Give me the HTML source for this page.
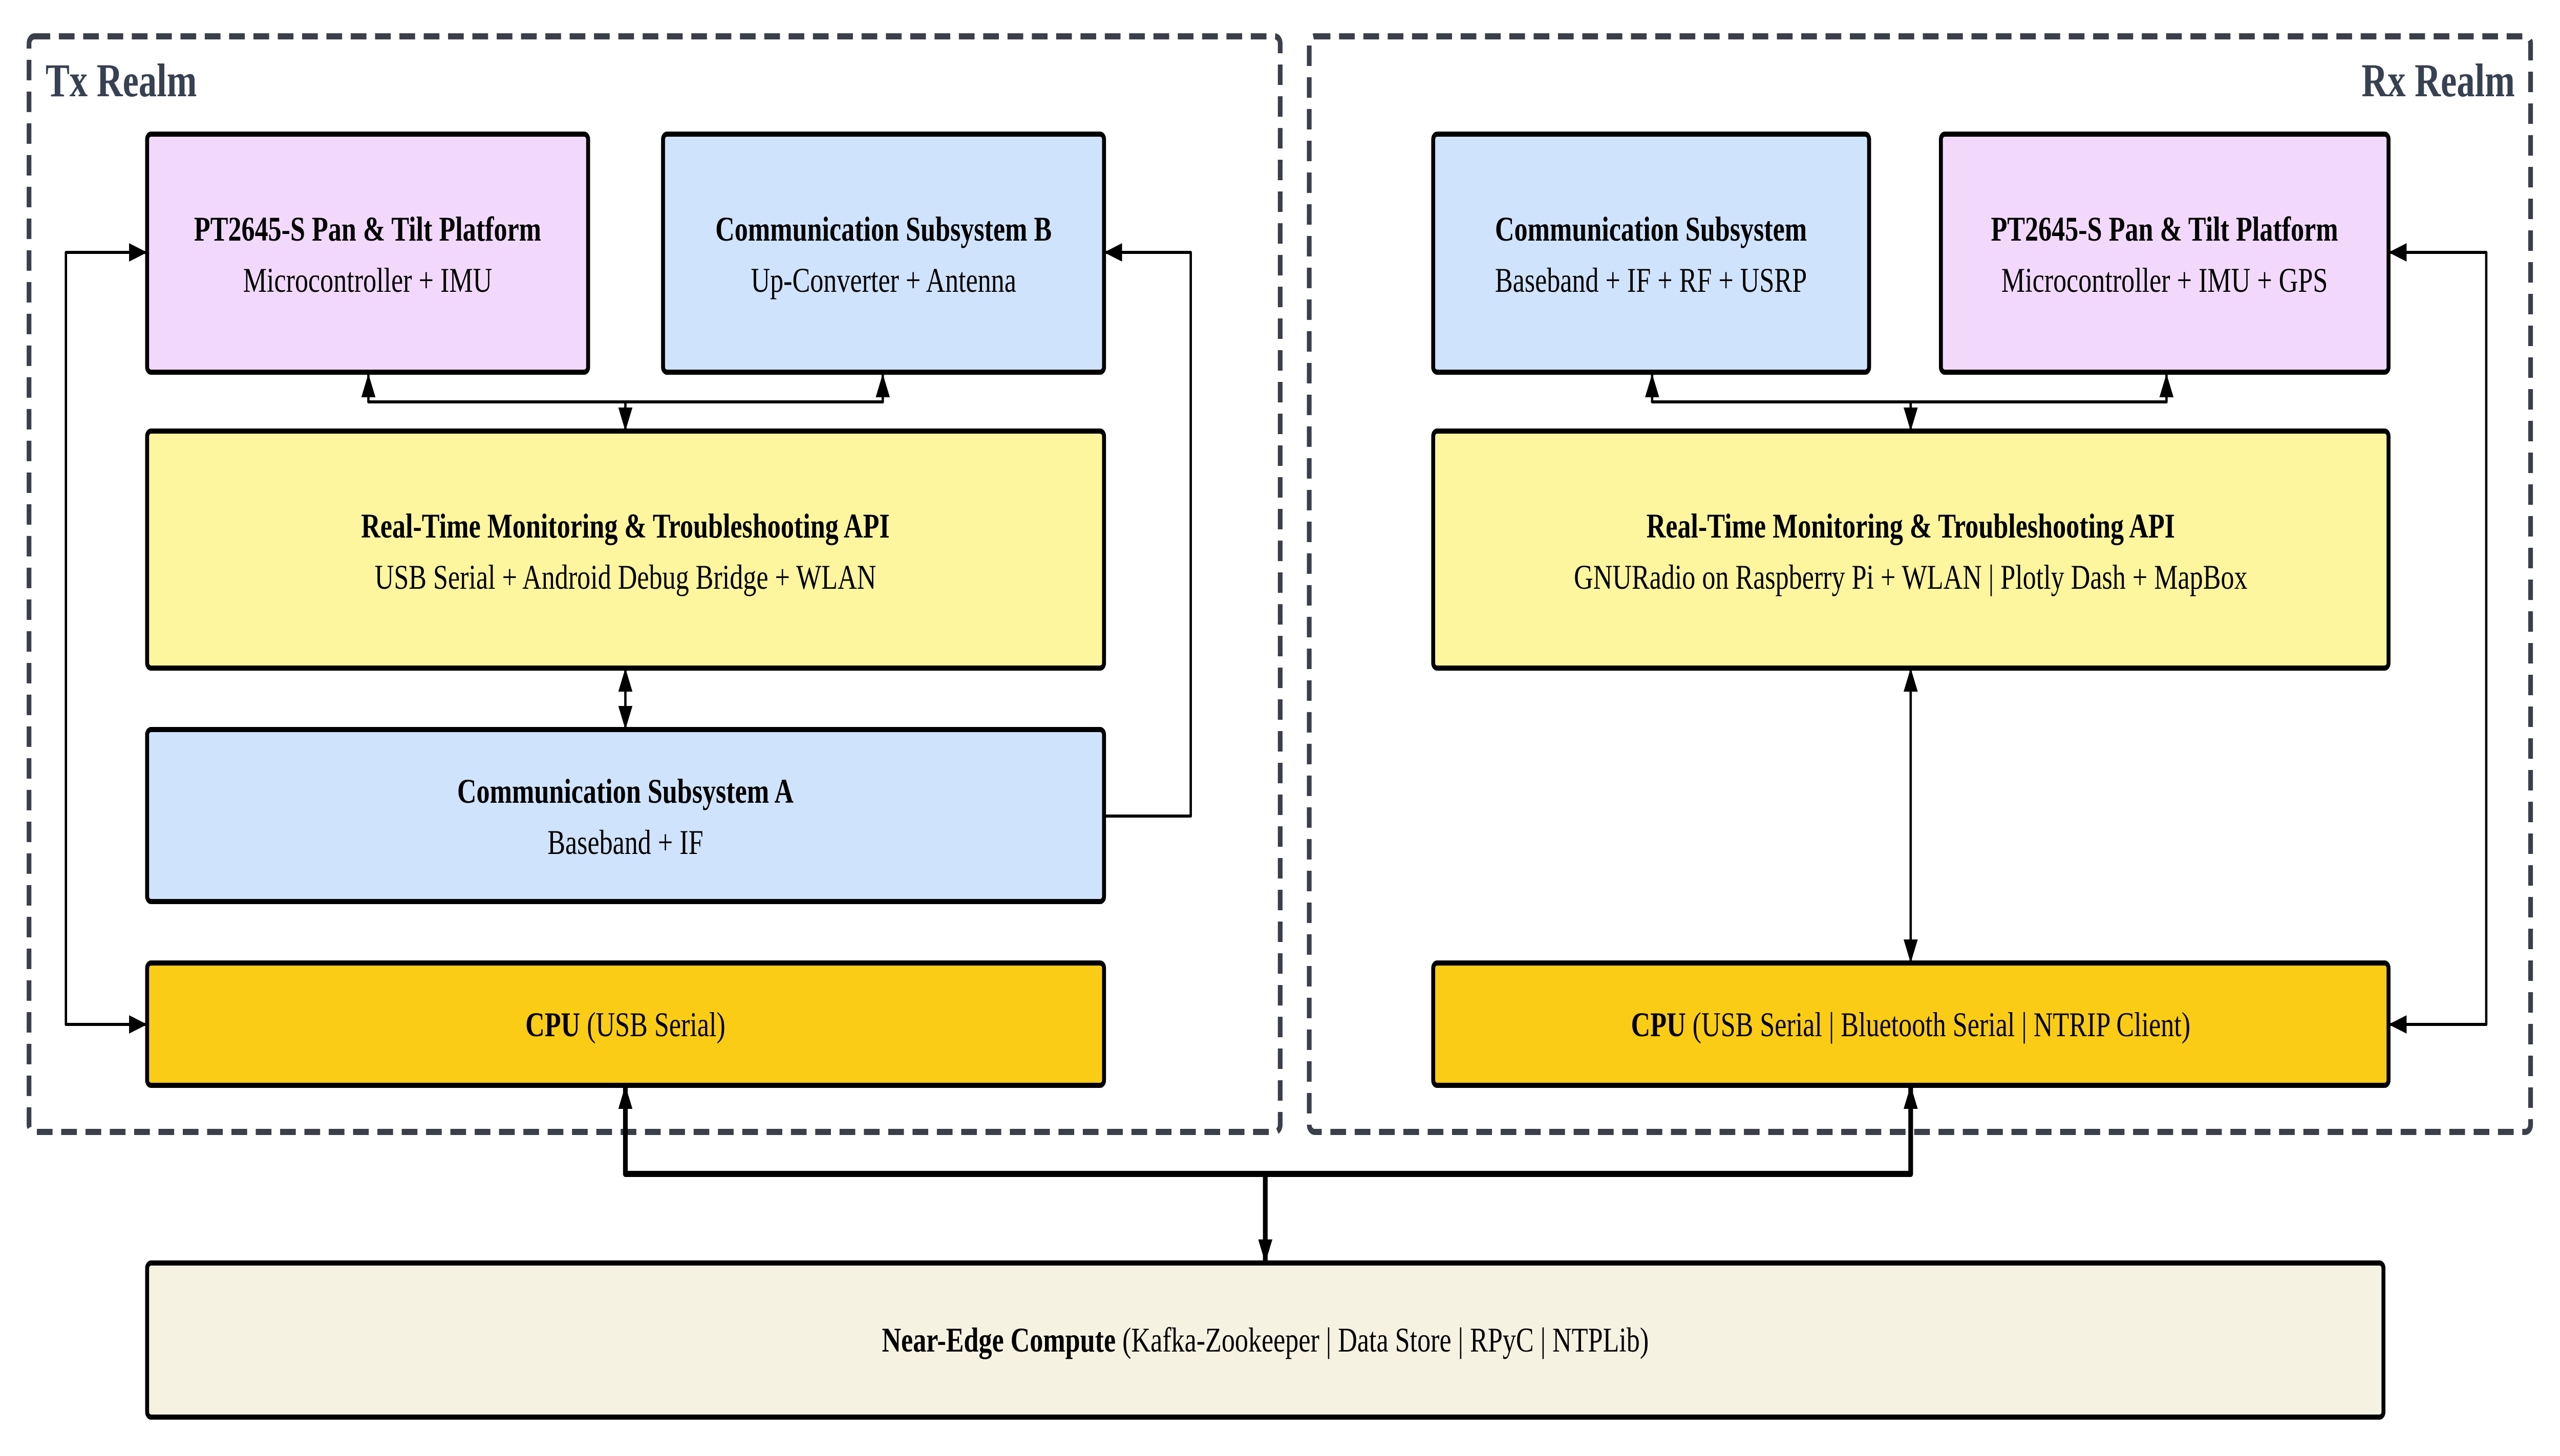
<!DOCTYPE html>
<html><head><meta charset="utf-8"><style>
html,body{margin:0;padding:0;background:#fff;width:100%;height:100%;overflow:hidden;}
svg{display:block;width:100vw;height:100vh;}
text{font-family:"Liberation Serif",serif;fill:#000;}
</style></head><body>
<svg viewBox="0 0 6525 2844" preserveAspectRatio="none" xmlns="http://www.w3.org/2000/svg">
<defs>
<marker id="a" markerUnits="userSpaceOnUse" markerWidth="50" markerHeight="40" refX="46" refY="18" orient="auto">
<path d="M0,0 L46,18 L0,36 Z" fill="#000"/></marker>
<marker id="as" markerUnits="userSpaceOnUse" markerWidth="50" markerHeight="40" refX="0" refY="18" orient="auto">
<path d="M46,0 L0,18 L46,36 Z" fill="#000"/></marker>
</defs>
<rect x="74" y="71" width="3189" height="2140" rx="14" fill="none" stroke="#3a3f4a" stroke-width="12" stroke-dasharray="40 22"/>
<rect x="3337" y="71" width="3113" height="2140" rx="14" fill="none" stroke="#3a3f4a" stroke-width="12" stroke-dasharray="40 22"/>
<text x="116" y="188" font-size="92" font-weight="bold" style="fill:#374151">Tx Realm</text>
<text x="6410" y="188" font-size="92" font-weight="bold" text-anchor="end" style="fill:#374151">Rx Realm</text>

<g stroke="#000" stroke-width="10">
<rect x="375" y="262" width="1124" height="465" rx="10" fill="#f2d9fb"/>
<rect x="1690" y="262" width="1124" height="465" rx="10" fill="#cfe3fc"/>
<rect x="375" y="842" width="2439" height="463" rx="10" fill="#fef59f"/>
<rect x="375" y="1425" width="2439" height="336" rx="10" fill="#cfe3fc"/>
<rect x="375" y="1881" width="2439" height="239" rx="10" fill="#facc15"/>
<rect x="3653" y="262" width="1111" height="465" rx="10" fill="#cfe3fc"/>
<rect x="4947" y="262" width="1141" height="465" rx="10" fill="#f2d9fb"/>
<rect x="3653" y="842" width="2435" height="463" rx="10" fill="#fef59f"/>
<rect x="3653" y="1881" width="2435" height="239" rx="10" fill="#facc15"/>
<rect x="375" y="2467" width="5700" height="301" rx="10" fill="#f5f2e2"/>
</g>

<g font-size="68" text-anchor="middle">
<text x="937" y="470" font-weight="bold">PT2645-S Pan &amp; Tilt Platform</text>
<text x="937" y="570">Microcontroller + IMU</text>
<text x="2252" y="470" font-weight="bold">Communication Subsystem B</text>
<text x="2252" y="570">Up-Converter + Antenna</text>
<text x="1594" y="1050" font-weight="bold">Real-Time Monitoring &amp; Troubleshooting API</text>
<text x="1594" y="1150">USB Serial + Android Debug Bridge + WLAN</text>
<text x="1594" y="1568" font-weight="bold">Communication Subsystem A</text>
<text x="1594" y="1668">Baseband + IF</text>
<text x="1594" y="2024"><tspan font-weight="bold">CPU</tspan> (USB Serial)</text>
<text x="4208" y="470" font-weight="bold">Communication Subsystem</text>
<text x="4208" y="570">Baseband + IF + RF + USRP</text>
<text x="5517" y="470" font-weight="bold">PT2645-S Pan &amp; Tilt Platform</text>
<text x="5517" y="570">Microcontroller + IMU + GPS</text>
<text x="4870" y="1050" font-weight="bold">Real-Time Monitoring &amp; Troubleshooting API</text>
<text x="4870" y="1150">GNURadio on Raspberry Pi + WLAN | Plotly Dash + MapBox</text>
<text x="4870" y="2024"><tspan font-weight="bold">CPU</tspan> (USB Serial | Bluetooth Serial | NTRIP Client)</text>
<text x="3225" y="2640"><tspan font-weight="bold">Near-Edge Compute</tspan> (Kafka-Zookeeper | Data Store | RPyC | NTPLib)</text>
</g>

<g fill="none" stroke="#000" stroke-width="6" stroke-linejoin="round">
<path d="M375,493 H168 V2001 H375" marker-start="url(#as)" marker-end="url(#a)"/>
<path d="M2814,1594 H3035 V493 H2814" marker-end="url(#a)"/>
<path d="M939,730 V785 H2250 V730" marker-start="url(#as)" marker-end="url(#a)"/>
<path d="M1594,785 V842" marker-end="url(#a)"/>
<path d="M1594,1305 V1425" marker-start="url(#as)" marker-end="url(#a)"/>
<path d="M4211,730 V785 H5522 V730" marker-start="url(#as)" marker-end="url(#a)"/>
<path d="M4870,785 V842" marker-end="url(#a)"/>
<path d="M4870,1305 V1881" marker-start="url(#as)" marker-end="url(#a)"/>
<path d="M6088,493 H6337 V2001 H6088" marker-start="url(#as)" marker-end="url(#a)"/>
</g>
<g fill="none" stroke="#000" stroke-width="12" stroke-linejoin="round">
<path d="M1594,2120 V2293 H4870 V2120" marker-start="url(#as)" marker-end="url(#a)"/>
<path d="M3225,2293 V2467" marker-end="url(#a)"/>
</g>
</svg>
</body></html>
